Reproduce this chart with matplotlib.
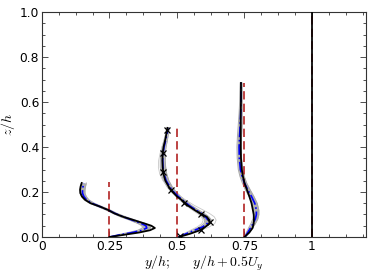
import numpy as np
import matplotlib
matplotlib.use("Agg")
import matplotlib.pyplot as plt
from matplotlib.ticker import MultipleLocator, FixedLocator

# ---------------- data ----------------
# profile 1 (origin y/h = 0.25)
z1 = [0, 0.01, 0.02, 0.03, 0.04, 0.05, 0.06, 0.075, 0.09, 0.105, 0.12, 0.135,
      0.15, 0.165, 0.18, 0.195, 0.21, 0.225, 0.24]
black1 = [0.25, 0.305, 0.36, 0.40, 0.418, 0.405, 0.38, 0.34, 0.30, 0.268, 0.245,
          0.215, 0.18, 0.16, 0.148, 0.142, 0.141, 0.143, 0.147]
blue1 = [0.25, 0.29, 0.335, 0.37, 0.388, 0.385, 0.368, 0.335, 0.30, 0.27, 0.245,
         0.215, 0.185, 0.165, 0.155, 0.15, 0.15, 0.152, 0.155]
grey1_lo = [0.25, 0.28, 0.32, 0.355, 0.372, 0.37, 0.355, 0.325, 0.29, 0.262, 0.237,
            0.207, 0.176, 0.156, 0.146, 0.141, 0.141, 0.143, 0.146]
grey1_hi = [0.25, 0.30, 0.345, 0.385, 0.402, 0.40, 0.382, 0.347, 0.31, 0.278, 0.253,
            0.223, 0.194, 0.174, 0.164, 0.159, 0.159, 0.161, 0.164]

# profile 2 (origin y/h = 0.5)
z2 = [0, 0.015, 0.03, 0.045, 0.06, 0.075, 0.09, 0.105, 0.12, 0.14, 0.16, 0.18,
      0.2, 0.22, 0.25, 0.28, 0.31, 0.34, 0.37, 0.40, 0.43, 0.46, 0.485]
black2 = [0.508, 0.55, 0.585, 0.605, 0.62, 0.62, 0.61, 0.585, 0.565, 0.54, 0.522,
          0.50, 0.484, 0.471, 0.457, 0.45, 0.447, 0.446, 0.447, 0.45, 0.456, 0.461, 0.465]
blue2 = [0.505, 0.535, 0.565, 0.595, 0.612, 0.615, 0.605, 0.59, 0.57, 0.545, 0.525,
         0.505, 0.488, 0.475, 0.46, 0.452, 0.448, 0.447, 0.448, 0.452, 0.458, 0.463, 0.466]
grey2_lo = [0.503, 0.528, 0.556, 0.584, 0.600, 0.603, 0.594, 0.58, 0.561, 0.537, 0.517,
            0.497, 0.479, 0.465, 0.45, 0.442, 0.438, 0.438, 0.44, 0.445, 0.452, 0.458, 0.461]
grey2_hi = [0.507, 0.542, 0.574, 0.606, 0.624, 0.628, 0.618, 0.601, 0.58, 0.554, 0.534,
            0.514, 0.497, 0.484, 0.47, 0.462, 0.458, 0.456, 0.456, 0.459, 0.464, 0.468, 0.471]
thin2_a = [0.505, 0.55, 0.59, 0.62, 0.64, 0.645, 0.638, 0.62, 0.597, 0.565, 0.538,
           0.51, 0.488, 0.47, 0.448, 0.436, 0.431, 0.432, 0.437, 0.444, 0.452, 0.459, 0.464]
thin2_b = [0.505, 0.525, 0.55, 0.575, 0.592, 0.597, 0.59, 0.575, 0.556, 0.533, 0.514,
           0.497, 0.482, 0.47, 0.458, 0.453, 0.452, 0.453, 0.455, 0.458, 0.462, 0.466, 0.468]
mark2_x = [0.51, 0.588, 0.622, 0.59, 0.525, 0.478, 0.448, 0.447, 0.462]
mark2_z = [0.005, 0.03, 0.065, 0.10, 0.15, 0.21, 0.29, 0.375, 0.475]

# profile 3 (origin y/h = 0.75)
z3 = [0, 0.02, 0.04, 0.06, 0.08, 0.1, 0.12, 0.15, 0.18, 0.21, 0.24, 0.27, 0.3,
      0.35, 0.4, 0.45, 0.5, 0.55, 0.6, 0.65, 0.685]
black3 = [0.75, 0.768, 0.78, 0.784, 0.785, 0.784, 0.781, 0.776, 0.768, 0.759, 0.75,
          0.744, 0.74, 0.737, 0.736, 0.736, 0.736, 0.736, 0.737, 0.737, 0.737]
blue3 = [0.752, 0.762, 0.772, 0.782, 0.79, 0.794, 0.794, 0.788, 0.776, 0.762, 0.75,
         0.741, 0.735, 0.731, 0.73, 0.732, 0.734, 0.736, 0.737, 0.737, 0.737]
grey3_lo = [0.75, 0.757, 0.765, 0.774, 0.781, 0.785, 0.785, 0.779, 0.767, 0.753, 0.742,
            0.733, 0.727, 0.723, 0.722, 0.724, 0.727, 0.73, 0.732, 0.733, 0.734]
grey3_hi = [0.753, 0.767, 0.779, 0.79, 0.799, 0.803, 0.803, 0.797, 0.785, 0.771, 0.758,
            0.749, 0.743, 0.739, 0.738, 0.739, 0.741, 0.741, 0.741, 0.741, 0.741]

# reference lines: origin and height of the dashed lines
ref_x = [0.25, 0.5, 0.75, 1.0]
ref_top = [0.245, 0.485, 0.685, 1.0]

xticks = [0, 0.25, 0.5, 0.75, 1]
xticklabels = ["0", "0.25", "0.5", "0.75", "1"]
yticks = [0.0, 0.2, 0.4, 0.6, 0.8, 1.0]
yticklabels = ["0.0", "0.2", "0.4", "0.6", "0.8", "1.0"]

# ---------------- plot ----------------
plt.rcParams['mathtext.fontset'] = 'cm'
plt.rcParams['font.family'] = ['DejaVu Sans']

fig = plt.figure(figsize=(3.74, 2.80), dpi=100)
ax = fig.add_axes([0.1123, 0.1536, 0.8663, 0.8034])

red = '#b22222'
greys = [(z1, grey1_lo, grey1_hi), (z2, grey2_lo, grey2_hi), (z3, grey3_lo, grey3_hi)]
for zz, lo, hi in greys:
    ax.fill_betweenx(zz, lo, hi, color='#7a7a7a', alpha=0.6, lw=0)
    ax.plot(lo, zz, color='#a8a8a8', lw=0.7)
    ax.plot(hi, zz, color='#a8a8a8', lw=0.7)

ax.plot(thin2_a, z2, color='#c8c8c8', lw=0.6)
ax.plot(thin2_b, z2, color='#c8c8c8', lw=0.6)

for xr, top in zip(ref_x[:3], ref_top[:3]):
    ax.plot([xr, xr], [0, top], color=red, lw=1.2, dashes=(5, 2.5), zorder=3)

for zz, bl in [(z1, blue1), (z2, blue2), (z3, blue3)]:
    ax.plot(bl, zz, color='#0000ff', lw=1.2, ls='-.', zorder=4)

for zz, bk in [(z1, black1), (z2, black2), (z3, black3)]:
    ax.plot(bk, zz, color='black', lw=1.3, zorder=5)

ax.plot(mark2_x, mark2_z, ls='none', marker='x', ms=4, mew=0.9, color='black', zorder=6)

ax.plot([ref_x[3], ref_x[3]], [0, ref_top[3]], color=red, lw=1.2, dashes=(5, 2.5), zorder=3)
ax.plot([ref_x[3], ref_x[3]], [0, ref_top[3]], color='black', lw=1.4, alpha=0.9, zorder=5)

ax.set_xlim(0, 1.2)
ax.set_ylim(0, 1.0)
ax.xaxis.set_major_locator(FixedLocator(xticks))
ax.set_xticklabels(xticklabels)
ax.yaxis.set_major_locator(FixedLocator(yticks))
ax.set_yticklabels(yticklabels)
ax.xaxis.set_minor_locator(MultipleLocator(0.0625))
ax.yaxis.set_minor_locator(MultipleLocator(0.05))
ax.tick_params(which='both', direction='in', top=True, right=True, labelsize=8.8,
               color='#333333', width=0.6)
ax.tick_params(which='major', length=4, pad=2)
ax.tick_params(which='minor', length=2)
for s in ax.spines.values():
    s.set_color('#333333')
    s.set_linewidth(0.8)

ax.set_xlabel(r'$y/h;\quad\ \ y/h+0.5U_y$', fontsize=10, labelpad=1)
ax.set_ylabel(r'$z/h$', fontsize=10, labelpad=2)

fig.savefig('out.png', dpi=100)
